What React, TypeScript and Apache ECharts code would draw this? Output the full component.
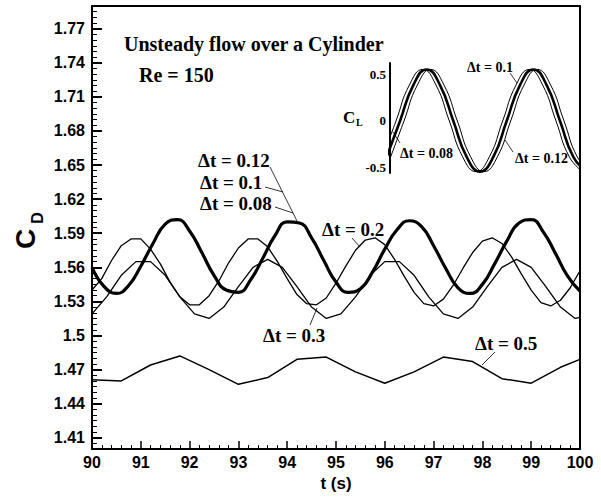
import React, { useEffect, useRef } from "react";
import * as echarts from "echarts";

// ---------- Main chart data (C_D vs t) ----------
// dt = 0.08 / 0.1 / 0.12 (overlapping thick curve)
const tFine = [90, 90.25, 90.5, 90.75, 91, 91.25, 91.5, 91.75, 92, 92.25, 92.5, 92.75, 93, 93.25, 93.5, 93.75, 94, 94.25, 94.5, 94.75, 95, 95.25, 95.5, 95.75, 96, 96.25, 96.5, 96.75, 97, 97.25, 97.5, 97.75, 98, 98.25, 98.5, 98.75, 99, 99.25, 99.5, 99.75, 100];
const cdFine = [1.560, 1.543, 1.537, 1.544, 1.561, 1.581, 1.598, 1.602, 1.592, 1.573, 1.553, 1.540, 1.538, 1.549, 1.568, 1.588, 1.600, 1.599, 1.586, 1.566, 1.547, 1.538, 1.541, 1.556, 1.576, 1.593, 1.601, 1.596, 1.579, 1.559, 1.542, 1.537, 1.545, 1.563, 1.583, 1.599, 1.602, 1.591, 1.572, 1.552, 1.539];

// dt = 0.2
const t02 = [90, 90.2, 90.4, 90.6, 90.8, 91, 91.2, 91.4, 91.6, 91.8, 92, 92.2, 92.4, 92.6, 92.8, 93, 93.2, 93.4, 93.6, 93.8, 94, 94.2, 94.4, 94.6, 94.8, 95, 95.2, 95.4, 95.6, 95.8, 96, 96.2, 96.4, 96.6, 96.8, 97, 97.2, 97.4, 97.6, 97.8, 98, 98.2, 98.4, 98.6, 98.8, 99, 99.2, 99.4, 99.6, 99.8, 100];
const cd02 = [1.540, 1.550, 1.566, 1.579, 1.585, 1.585, 1.576, 1.563, 1.547, 1.534, 1.527, 1.527, 1.535, 1.548, 1.564, 1.577, 1.585, 1.585, 1.578, 1.565, 1.550, 1.536, 1.528, 1.527, 1.533, 1.546, 1.561, 1.575, 1.584, 1.586, 1.580, 1.567, 1.552, 1.538, 1.528, 1.526, 1.532, 1.544, 1.559, 1.573, 1.583, 1.586, 1.581, 1.569, 1.554, 1.540, 1.529, 1.526, 1.531, 1.542, 1.557];

// dt = 0.3
const t03 = [90, 90.3, 90.6, 90.9, 91.2, 91.5, 91.8, 92.1, 92.4, 92.7, 93, 93.3, 93.6, 93.9, 94.2, 94.5, 94.8, 95.1, 95.4, 95.7, 96, 96.3, 96.6, 96.9, 97.2, 97.5, 97.8, 98.1, 98.4, 98.7, 99, 99.3, 99.6, 99.9, 100];
const cd03 = [1.519, 1.534, 1.553, 1.565, 1.565, 1.553, 1.534, 1.519, 1.515, 1.525, 1.543, 1.560, 1.567, 1.560, 1.543, 1.525, 1.515, 1.519, 1.534, 1.553, 1.565, 1.565, 1.553, 1.534, 1.519, 1.515, 1.525, 1.543, 1.560, 1.567, 1.560, 1.543, 1.525, 1.515, 1.516];

// dt = 0.5
const t05 = [90, 90.6, 91.2, 91.8, 92.4, 93, 93.6, 94.2, 94.8, 95.4, 96, 96.6, 97.2, 97.8, 98.4, 99, 99.6, 100];
const cd05 = [1.461, 1.460, 1.474, 1.482, 1.470, 1.457, 1.463, 1.479, 1.481, 1.468, 1.458, 1.468, 1.481, 1.477, 1.462, 1.458, 1.472, 1.479];

// y tick labels of the main axis
const cdTickLabels = ["1.41", "1.44", "1.47", "1.5", "1.53", "1.56", "1.59", "1.62", "1.65", "1.68", "1.71", "1.74", "1.77"];

// ---------- Inset data (C_L) ----------
const insetT = [-3, -2, -1, 0, 1, 2, 3, 4, 5, 6, 7, 8, 9, 10, 11, 12];
const clValues = [-0.39, 0, 0.39, 0.56, 0.39, 0, -0.39, -0.55, -0.39, 0, 0.39, 0.56, 0.39, 0, -0.39, -0.55];
const insetNames = ["Δt = 0.08", "Δt = 0.1", "Δt = 0.12"];
const insetLag = [-0.3, 0, 0.3];
const clTickLabels = ["-0.5", "0", "0.5"];

const pairs = (xs: number[], ys: number[]) => xs.map((x, i) => [x, ys[i]]);

const SERIF = '"Liberation Serif", "Times New Roman", serif';
const SANS = '"Liberation Sans", Arial, sans-serif';

const txt = (text: string, x: number, y: number, size: number, align = "left") => ({
  type: "text",
  x,
  y,
  silent: true,
  style: { text, fill: "#000", font: `bold ${size}px ${SERIF}`, align, verticalAlign: "middle" },
});

const leader = (x1: number, y1: number, x2: number, y2: number) => ({
  type: "line",
  silent: true,
  shape: { x1, y1, x2, y2 },
  style: { stroke: "#000", lineWidth: 0.8 },
});

function buildOption(): any {
  const axisLineStyle = { color: "#000", width: 2 };
  return {
    animation: false,
    backgroundColor: "#fff",
    grid: [
      { left: 92, top: 6, right: 21, bottom: 46 },
      { left: 390, top: 63, width: 188, height: 110 },
    ],
    xAxis: [
      {
        type: "value",
        gridIndex: 0,
        min: 90,
        max: 100,
        interval: 1,
        name: "t (s)",
        nameLocation: "middle",
        nameGap: 17,
        nameTextStyle: { fontFamily: SANS, fontWeight: "bold", fontSize: 17, color: "#000" },
        axisLine: { show: true, onZero: false, lineStyle: axisLineStyle },
        axisTick: { show: true, inside: true, length: 8, lineStyle: { color: "#000", width: 1.5 } },
        minorTick: { show: true, splitNumber: 5, length: 4, lineStyle: { color: "#000", width: 1 } },
        axisLabel: { margin: 5, fontFamily: SANS, fontWeight: "bold", fontSize: 16, color: "#000" },
        splitLine: { show: false },
      },
      {
        type: "value",
        gridIndex: 0,
        position: "top",
        min: 90,
        max: 100,
        axisLine: { show: true, onZero: false, lineStyle: axisLineStyle },
        axisTick: { show: false },
        axisLabel: { show: false },
        splitLine: { show: false },
      },
      {
        type: "value",
        gridIndex: 1,
        min: -2.75,
        max: 11.35,
        show: false,
        splitLine: { show: false },
      },
    ],
    yAxis: [
      {
        type: "value",
        gridIndex: 0,
        min: 1.4,
        max: 1.79,
        minInterval: 0.03,
        maxInterval: 0.03,
        splitNumber: 13,
        axisLine: { show: true, onZero: false, lineStyle: axisLineStyle },
        axisTick: { show: true, inside: true, length: 10, lineStyle: { color: "#000", width: 2 } },
        axisLabel: {
          margin: 7,
          fontFamily: SANS,
          fontWeight: "bold",
          fontSize: 16,
          color: "#000",
          formatter: (v: number) => {
            const s = String(Number(v.toFixed(2)));
            return cdTickLabels.indexOf(s) >= 0 ? s : "";
          },
        },
        splitLine: { show: false },
      },
      {
        type: "value",
        gridIndex: 0,
        position: "left",
        min: 1.4,
        max: 1.79,
        interval: 0.005,
        axisLine: { show: false, onZero: false },
        axisTick: { show: true, inside: true, length: 5, lineStyle: { color: "#000", width: 1 } },
        axisLabel: { show: false },
        splitLine: { show: false },
      },
      {
        type: "value",
        gridIndex: 0,
        position: "right",
        min: 1.4,
        max: 1.79,
        axisLine: { show: true, onZero: false, lineStyle: axisLineStyle },
        axisTick: { show: false },
        axisLabel: { show: false },
        splitLine: { show: false },
      },
      {
        type: "value",
        gridIndex: 1,
        min: -0.565,
        max: 0.63,
        minInterval: 0.5,
        maxInterval: 0.5,
        splitNumber: 2,
        axisLine: { show: true, onZero: false, lineStyle: axisLineStyle },
        axisTick: { show: false },
        axisLabel: {
          margin: 4,
          fontFamily: SERIF,
          fontWeight: "bold",
          fontSize: 13,
          color: "#000",
          formatter: (v: number) => {
            const s = String(Number(v.toFixed(2)));
            return clTickLabels.indexOf(s) >= 0 ? s : "";
          },
        },
        splitLine: { show: false },
      },
    ],
    series: [
      {
        name: "Δt = 0.08, 0.1, 0.12",
        type: "line",
        xAxisIndex: 0,
        yAxisIndex: 0,
        data: pairs(tFine, cdFine),
        smooth: true,
        showSymbol: false,
        lineStyle: { color: "#000", width: 3.2 },
      },
      {
        name: "Δt = 0.2",
        type: "line",
        xAxisIndex: 0,
        yAxisIndex: 0,
        data: pairs(t02, cd02),
        showSymbol: false,
        lineStyle: { color: "#000", width: 1.3 },
      },
      {
        name: "Δt = 0.3",
        type: "line",
        xAxisIndex: 0,
        yAxisIndex: 0,
        data: pairs(t03, cd03),
        showSymbol: false,
        lineStyle: { color: "#000", width: 1.3 },
      },
      {
        name: "Δt = 0.5",
        type: "line",
        xAxisIndex: 0,
        yAxisIndex: 0,
        data: pairs(t05, cd05),
        showSymbol: false,
        lineStyle: { color: "#000", width: 1.5 },
      },
      ...insetNames.map((name, k) => ({
        name: "C_L " + name,
        type: "line",
        xAxisIndex: 2,
        yAxisIndex: 3,
        data: insetT.map((t, i) => [t + insetLag[k], clValues[i]]),
        smooth: true,
        showSymbol: false,
        clip: true,
        lineStyle: { color: "#000", width: k === 1 ? 2.6 : 1 },
      })),
    ],
    graphic: [
      // y-axis title C_D (rotated)
      {
        type: "text",
        x: 25,
        y: 239,
        rotation: Math.PI / 2,
        silent: true,
        style: { text: "C", fill: "#000", font: `bold 28px ${SANS}`, align: "center", verticalAlign: "middle" },
      },
      {
        type: "text",
        x: 37,
        y: 218,
        rotation: Math.PI / 2,
        silent: true,
        style: { text: "D", fill: "#000", font: `bold 16px ${SANS}`, align: "center", verticalAlign: "middle" },
      },
      // titles
      txt("Unsteady flow over a Cylinder", 124, 44, 20),
      txt("Re = 150", 139, 75, 20),
      // main labels
      txt("Δt = 0.12", 198, 160, 19),
      txt("Δt = 0.1", 200, 182, 19),
      txt("Δt = 0.08", 200, 203, 19),
      txt("Δt = 0.2", 322, 229, 19),
      txt("Δt = 0.3", 263, 335, 19),
      txt("Δt = 0.5", 475, 343, 19),
      leader(270, 167, 297, 221),
      leader(265, 187, 283, 192),
      leader(275, 207, 293, 213),
      leader(352, 238, 360, 247),
      leader(310, 325, 317, 308),
      leader(495, 352, 482, 365),
      // inset labels
      {
        type: "text",
        x: 343,
        y: 117,
        silent: true,
        style: { text: "C", fill: "#000", font: `bold 17px ${SERIF}`, align: "left", verticalAlign: "middle" },
      },
      {
        type: "text",
        x: 356,
        y: 122,
        silent: true,
        style: { text: "L", fill: "#000", font: `bold 10px ${SERIF}`, align: "left", verticalAlign: "middle" },
      },
      txt("Δt = 0.1", 467, 67, 14),
      txt("Δt = 0.08", 400, 153, 14),
      txt("Δt = 0.12", 515, 158, 14),
      leader(510, 73, 517, 83),
      leader(400, 143, 393, 132),
      leader(513, 152, 505, 140),
    ],
  };
}

export default function App() {
  const ref = useRef<HTMLDivElement>(null);
  useEffect(() => {
    if (!ref.current) return;
    const chart = echarts.init(ref.current, null, { renderer: "svg" });
    chart.setOption(buildOption());
    return () => chart.dispose();
  }, []);
  return (
    <div
      ref={ref}
      style={{ position: "fixed", left: 0, top: 0, width: 601, height: 497, background: "#fff" }}
    />
  );
}
